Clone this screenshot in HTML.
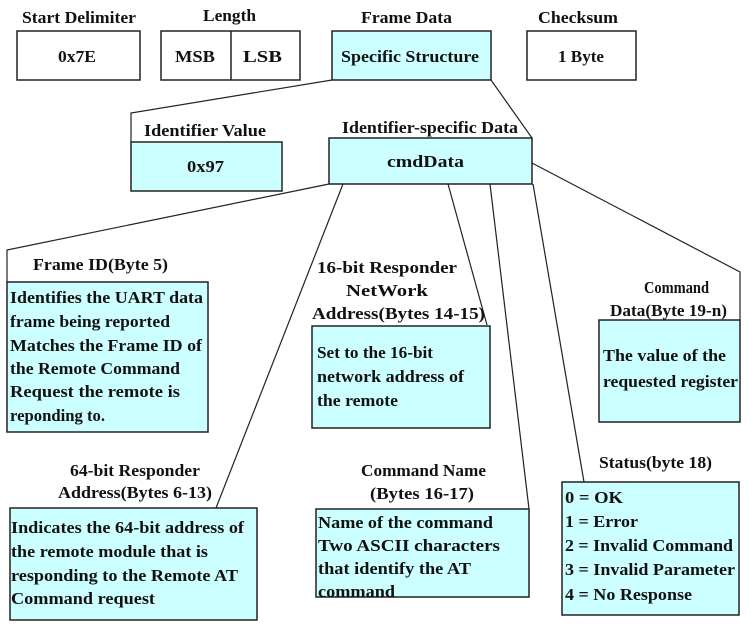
<!DOCTYPE html>
<html><head><meta charset="utf-8"><style>
html,body{margin:0;padding:0;background:#fff}
svg text{font-family:"Liberation Serif",serif;font-weight:bold;font-size:17px;fill:#111}
</style></head><body>
<svg width="751" height="627" viewBox="0 0 751 627" xmlns="http://www.w3.org/2000/svg">
<g fill="none" stroke="#222" stroke-width="1.5">
<rect x="17" y="31" width="123" height="49" fill="#fff"/>
<rect x="161" y="31" width="139" height="49" fill="#fff"/>
<line x1="231" y1="31" x2="231" y2="80"/>
<rect x="332" y="31" width="159" height="49" fill="#ccffff"/>
<rect x="527" y="31" width="109" height="49" fill="#fff"/>
<rect x="131" y="142" width="151" height="49" fill="#ccffff"/>
<rect x="329" y="138" width="203" height="46" fill="#ccffff"/>
<rect x="7" y="282" width="201" height="150" fill="#ccffff"/>
<rect x="312" y="326" width="178" height="102" fill="#ccffff"/>
<rect x="599" y="320" width="141" height="102" fill="#ccffff"/>
<rect x="10" y="508" width="247" height="112" fill="#ccffff"/>
<rect x="316" y="509" width="213" height="88" fill="#ccffff"/>
<rect x="562" y="482" width="177" height="133" fill="#ccffff"/>
</g>
<g fill="none" stroke="#222" stroke-width="1.2">
<polyline points="332,80 131,113 131,142"/>
<line x1="491" y1="80" x2="532" y2="138"/>
<polyline points="329,184 7,250 7,282"/>
<line x1="343" y1="184" x2="216" y2="508"/>
<line x1="448" y1="184" x2="487" y2="325"/>
<line x1="490" y1="184" x2="529" y2="509"/>
<line x1="533" y1="184" x2="584" y2="482"/>
<polyline points="532,163 740,272 740,320"/>
</g>
<g lengthAdjust="spacingAndGlyphs">
<text x="22" y="23" textLength="114" lengthAdjust="spacingAndGlyphs">Start Delimiter</text>
<text x="203" y="21" textLength="53" lengthAdjust="spacingAndGlyphs">Length</text>
<text x="361" y="23" textLength="91" lengthAdjust="spacingAndGlyphs">Frame Data</text>
<text x="538" y="23" textLength="80" lengthAdjust="spacingAndGlyphs">Checksum</text>
<text x="58" y="62" textLength="38" lengthAdjust="spacingAndGlyphs">0x7E</text>
<text x="175" y="62" textLength="40" lengthAdjust="spacingAndGlyphs">MSB</text>
<text x="243" y="62" textLength="39" lengthAdjust="spacingAndGlyphs">LSB</text>
<text x="341" y="62" textLength="138" lengthAdjust="spacingAndGlyphs">Specific Structure</text>
<text x="558" y="62" textLength="46" lengthAdjust="spacingAndGlyphs">1 Byte</text>
<text x="144" y="136" textLength="122" lengthAdjust="spacingAndGlyphs">Identifier Value</text>
<text x="342" y="133" textLength="176" lengthAdjust="spacingAndGlyphs">Identifier-specific Data</text>
<text x="187" y="172" textLength="37" lengthAdjust="spacingAndGlyphs">0x97</text>
<text x="387" y="167" textLength="77" lengthAdjust="spacingAndGlyphs">cmdData</text>

<text x="33" y="270" textLength="135" lengthAdjust="spacingAndGlyphs">Frame ID(Byte 5)</text>
<text x="10" y="303" textLength="193" lengthAdjust="spacingAndGlyphs">Identifies the UART data</text>
<text x="10" y="327" textLength="160" lengthAdjust="spacingAndGlyphs">frame being reported</text>
<text x="10" y="351" textLength="192" lengthAdjust="spacingAndGlyphs">Matches the Frame ID of</text>
<text x="10" y="374" textLength="170" lengthAdjust="spacingAndGlyphs">the Remote Command</text>
<text x="10" y="397" textLength="170" lengthAdjust="spacingAndGlyphs">Request the remote is</text>
<text x="10" y="421" textLength="95" lengthAdjust="spacingAndGlyphs">reponding to.</text>

<text x="317" y="273" textLength="140" lengthAdjust="spacingAndGlyphs">16-bit Responder</text>
<text x="346" y="296" textLength="82" lengthAdjust="spacingAndGlyphs">NetWork</text>
<text x="312" y="319" textLength="173" lengthAdjust="spacingAndGlyphs">Address(Bytes 14-15)</text>
<text x="317" y="358" textLength="116" lengthAdjust="spacingAndGlyphs">Set to the 16-bit</text>
<text x="317" y="382" textLength="147" lengthAdjust="spacingAndGlyphs">network address of</text>
<text x="317" y="406" textLength="81" lengthAdjust="spacingAndGlyphs">the remote</text>

<text x="644" y="293" textLength="65" lengthAdjust="spacingAndGlyphs">Command</text>
<text x="610" y="316" textLength="117" lengthAdjust="spacingAndGlyphs">Data(Byte 19-n)</text>
<text x="603" y="361" textLength="123" lengthAdjust="spacingAndGlyphs">The value of the</text>
<text x="603" y="387" textLength="135" lengthAdjust="spacingAndGlyphs">requested register</text>

<text x="70" y="476" textLength="130" lengthAdjust="spacingAndGlyphs">64-bit Responder</text>
<text x="58" y="498" textLength="154" lengthAdjust="spacingAndGlyphs">Address(Bytes 6-13)</text>
<text x="11" y="533" textLength="233" lengthAdjust="spacingAndGlyphs">Indicates the 64-bit address of</text>
<text x="11" y="557" textLength="197" lengthAdjust="spacingAndGlyphs">the remote module that is</text>
<text x="11" y="581" textLength="227" lengthAdjust="spacingAndGlyphs">responding to the Remote AT</text>
<text x="11" y="604" textLength="144" lengthAdjust="spacingAndGlyphs">Command request</text>

<text x="361" y="476" textLength="125" lengthAdjust="spacingAndGlyphs">Command Name</text>
<text x="370" y="499" textLength="104" lengthAdjust="spacingAndGlyphs">(Bytes 16-17)</text>
<text x="318" y="528" textLength="175" lengthAdjust="spacingAndGlyphs">Name of the command</text>
<text x="318" y="551" textLength="182" lengthAdjust="spacingAndGlyphs">Two ASCII characters</text>
<text x="318" y="574" textLength="153" lengthAdjust="spacingAndGlyphs">that identify the AT</text>
<text x="318" y="597" textLength="77" lengthAdjust="spacingAndGlyphs">command</text>

<text x="599" y="468" textLength="113" lengthAdjust="spacingAndGlyphs">Status(byte 18)</text>
<text x="565" y="503" textLength="58" lengthAdjust="spacingAndGlyphs">0 = OK</text>
<text x="565" y="527" textLength="73" lengthAdjust="spacingAndGlyphs">1 = Error</text>
<text x="565" y="551" textLength="168" lengthAdjust="spacingAndGlyphs">2 = Invalid Command</text>
<text x="565" y="575" textLength="170" lengthAdjust="spacingAndGlyphs">3 = Invalid Parameter</text>
<text x="565" y="600" textLength="127" lengthAdjust="spacingAndGlyphs">4 = No Response</text>
</g>
</svg>
</body></html>
